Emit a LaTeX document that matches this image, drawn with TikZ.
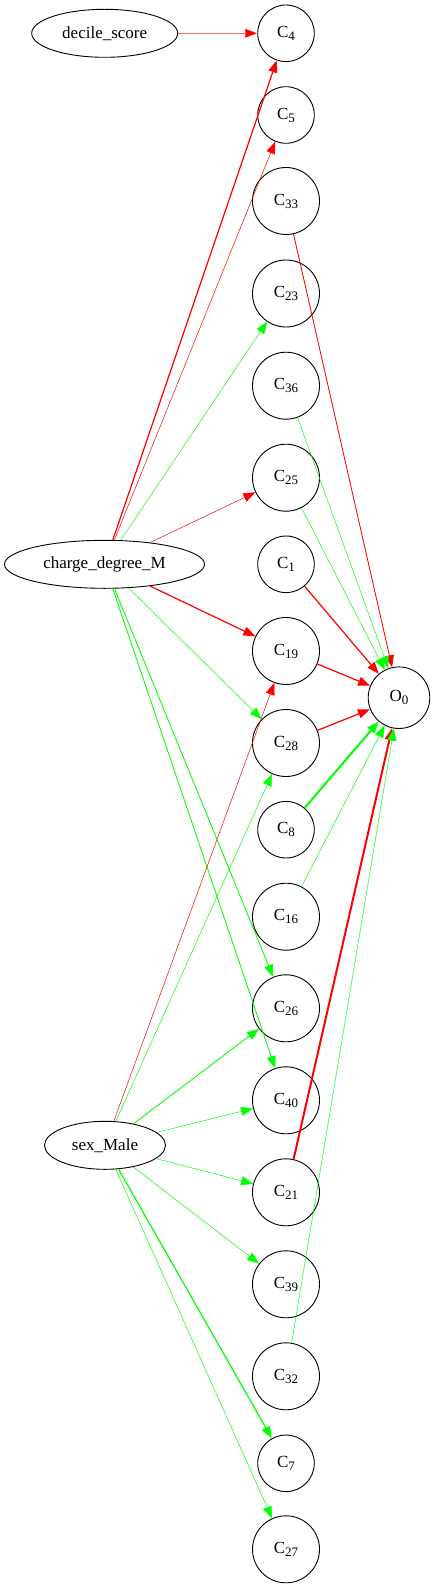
\documentclass[tikz,border=0pt]{standalone}
\usepackage{fontspec}
\setmainfont{Liberation Serif}
\usetikzlibrary{arrows.meta,shapes.geometric}
\tikzset{
  cs/.style={draw,circle,line width=0.9pt,minimum size=56.6pt,inner sep=0pt,font=\fontsize{17}{19}\selectfont},
  cb/.style={cs,minimum size=67pt},
  ell/.style={draw,ellipse,line width=0.9pt,inner sep=0pt,minimum height=48pt,font=\fontsize{17}{19}\selectfont},
  e/.style={-{Triangle[length=12pt,width=9pt]}},
  r/.style={e,draw=red,fill=red},
  g/.style={e,draw=green,fill=green},
  w1/.style={line width=0.4pt},
  w2/.style={line width=0.8pt},
  w3/.style={line width=1.2pt},
  w4/.style={line width=2pt}
}
\newcommand{\sbs}[1]{\raisebox{-0.4ex}{\fontsize{13}{14}\selectfont #1}}
\begin{document}
\begin{tikzpicture}[x=1pt,y=-1pt]
\useasboundingbox (0,0) rectangle (436,1589);
\node[ell,minimum width=146pt] (ds) at (104.7,33.3) {decile\_score};
\node[ell,minimum width=200pt] (cd) at (104.5,564.3) {charge\_degree\_M};
\node[ell,minimum width=121pt] (sm) at (105,1145.3) {sex\_Male};
\node[cs] (c4) at (286,33.3) {C\sbs{4}};
\node[cs] (c5) at (286,115) {C\sbs{5}};
\node[cb] (c33) at (286,201) {C\sbs{33}};
\node[cb] (c23) at (286,293.5) {C\sbs{23}};
\node[cb] (c36) at (286,385.7) {C\sbs{36}};
\node[cb] (c25) at (286,477.7) {C\sbs{25}};
\node[cs] (c1) at (286,564.3) {C\sbs{1}};
\node[cb] (c19) at (286,651) {C\sbs{19}};
\node[cb] (c28) at (286,743) {C\sbs{28}};
\node[cs] (c8) at (286,829.7) {C\sbs{8}};
\node[cb] (c16) at (286,916.7) {C\sbs{16}};
\node[cb] (c26) at (286,1008.3) {C\sbs{26}};
\node[cb] (c40) at (286,1100.3) {C\sbs{40}};
\node[cb] (c21) at (286,1192.3) {C\sbs{21}};
\node[cb] (c39) at (286,1284.3) {C\sbs{39}};
\node[cb] (c32) at (286,1376.3) {C\sbs{32}};
\node[cs] (c7) at (286,1463.3) {C\sbs{7}};
\node[cb] (c27) at (286,1549.3) {C\sbs{27}};
\node[cs,minimum size=61.6pt] (o0) at (399,697.7) {O\sbs{0}};
% inputs
\draw[r,w1,draw opacity=0.5] (ds) -- (c4);
\draw[r,w3] (cd) -- (c4);
\draw[r,w1] (cd) -- (c5);
\draw[g,w1] (cd) -- (c23);
\draw[r,w1] (cd) -- (c25);
\draw[r,w3] (cd) -- (c19);
\draw[g,w1] (cd) -- (c28);
\draw[g,w2] (cd) -- (c26);
\draw[g,w2] (cd) -- (c40);
\draw[r,w1] (sm) -- (c19);
\draw[g,w1] (sm) -- (c28);
\draw[g,w2] (sm) -- (c26);
\draw[g,w1] (sm) -- (c40);
\draw[g,w1] (sm) -- (c21);
\draw[g,w1] (sm) -- (c39);
\draw[g,w3] (sm) -- (c7);
\draw[g,w1] (sm) -- (c27);
% to output
\draw[r,w2] (c33) -- (o0);
\draw[g,w1] (c36) -- (o0);
\draw[g,w1] (c25) -- (o0);
\draw[r,w3] (c1) -- (o0);
\draw[r,w3] (c19) -- (o0);
\draw[r,w3] (c28) -- (o0);
\draw[g,w4] (c8) -- (o0);
\draw[g,w1] (c16) -- (o0);
\draw[r,w4] (c21) -- (o0);
\draw[g,w1] (c32) -- (o0);
\end{tikzpicture}
\end{document}
